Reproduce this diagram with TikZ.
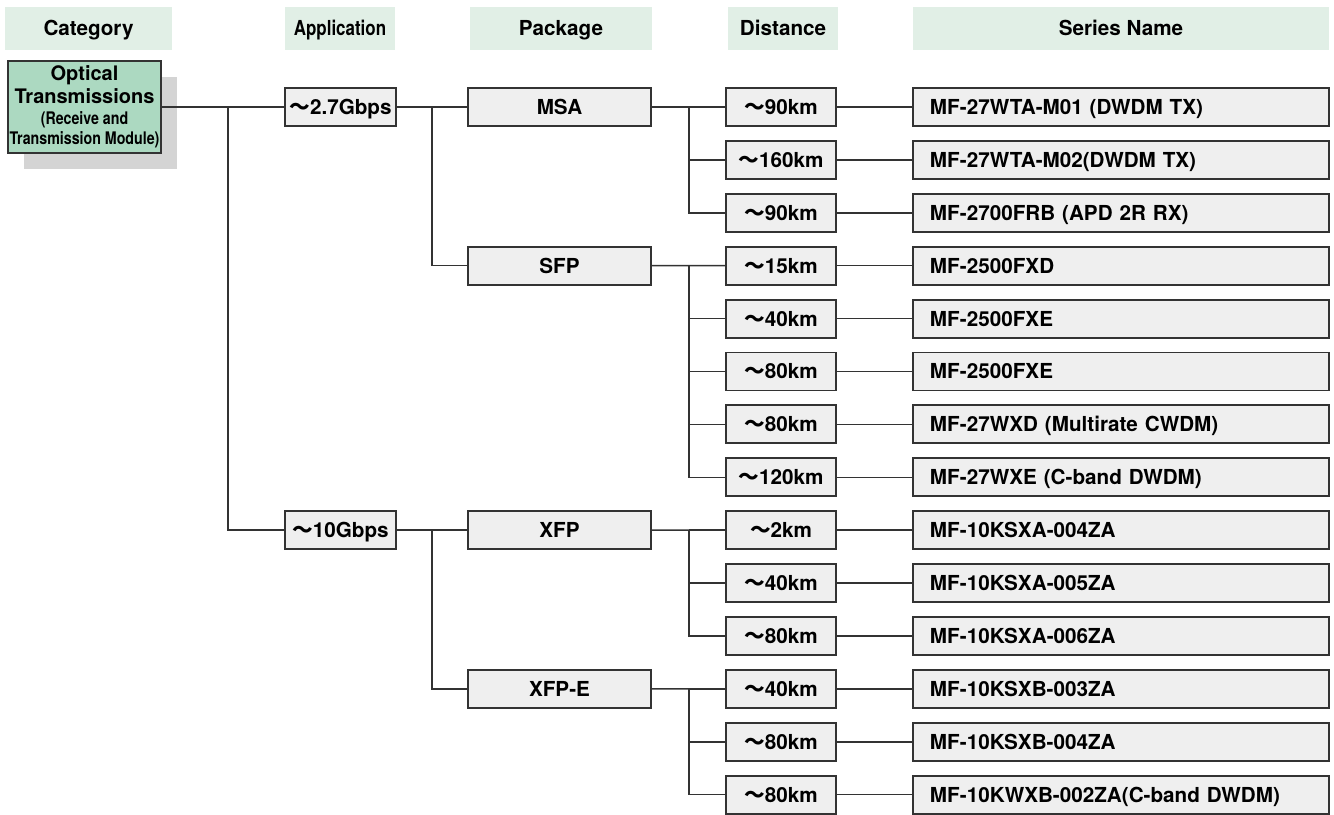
\documentclass[tikz,border=0pt]{standalone}
\usepackage{fontspec}
\setmainfont{TeX Gyre Heros}
\newfontfamily\cndfont[FakeStretch=0.82]{TeX Gyre Heros}
\newfontfamily\cjkfont{Noto Sans CJK JP}
\newcommand{\wave}{{\cjkfont ～}}
\usetikzlibrary{positioning,shadows}

\definecolor{headfill}{HTML}{E1EFE6}
\definecolor{boxfill}{HTML}{EFEFEF}
\definecolor{optfill}{HTML}{ACD9C1}
\definecolor{shadefill}{HTML}{D4D4D4}
\definecolor{edgegray}{HTML}{333333}

\begin{document}
\begin{tikzpicture}[x=0.75pt, y=-0.75pt,
  every node/.style={font=\bfseries\fontsize{15.5}{18}\selectfont},
  cnd/.style={font=\cndfont\bfseries\fontsize{15.5}{18}\selectfont},
  txt/.style={text height=13.5pt, text depth=2.3pt},
  headbox/.style={txt, fill=headfill, minimum height=32.25pt, inner sep=0pt},
  itembox/.style={txt, draw=edgegray, line width=1.4pt, fill=boxfill, minimum height=28.5pt, inner sep=0pt},
  appbox/.style={itembox, minimum width=83.25pt},
  pkgbox/.style={itembox, minimum width=137.25pt},
  distbox/.style={itembox, minimum width=82.5pt},
  serbox/.style={itembox, anchor=west, inner xsep=12.75pt, text width=286.5pt, align=left},
  link/.style={draw=edgegray, line width=1.1pt}]
  \useasboundingbox (0,0) rectangle (1334,814);

  % column headers
  \node[headbox, minimum width=125.25pt] (hcat) at (88.5,28.5) {Category};
  \node[headbox, cnd, minimum width=82.5pt] (happ) at (340,28.5) {Application};
  \node[headbox, minimum width=136.5pt] (hpkg) at (561,28.5) {Package};
  \node[headbox, minimum width=82.5pt] (hdist) at (783,28.5) {Distance};
  \node[headbox, minimum width=312pt] (hser) at (1121,28.5) {Series Name};

  % category
  \node[draw=edgegray, line width=1.4pt, fill=optfill, minimum width=114.75pt, minimum height=69pt,
        inner sep=0pt, align=center, font=\bfseries\fontsize{15}{17}\selectfont,
        drop shadow={shadow xshift=12pt, shadow yshift=-12pt, fill=shadefill, opacity=1}]
        (opt) at (84.5,107)
        {Optical\\Transmissions\\[-1pt]
         {\cndfont\fontsize{13}{15}\selectfont (Receive and}\\[-2pt]
         {\cndfont\fontsize{13}{15}\selectfont Transmission Module)}};

  % applications
  \node[appbox] (g27) at (340.5,107) {\wave2.7Gbps};
  \node[appbox] (g10) at (340.5,530.2) {\wave10Gbps};

  % packages
  \node[pkgbox] (msa) at (559.5,107) {MSA};
  \node[pkgbox] (sfp) at (559.5,265.7) {SFP};
  \node[pkgbox] (xfp) at (559.5,530.2) {XFP};
  \node[pkgbox] (xfpe) at (559.5,688.9) {XFP-E};

  % distances and series
  \foreach \d/\s [count=\i from 0] in {90km/MF-27WTA-M01 (DWDM TX), 160km/MF-27WTA-M02(DWDM TX),
      90km/MF-2700FRB (APD 2R RX), 15km/MF-2500FXD, 40km/MF-2500FXE, 80km/MF-2500FXE,
      80km/MF-27WXD (Multirate CWDM), 120km/MF-27WXE (C-band DWDM), 2km/MF-10KSXA-004ZA,
      40km/MF-10KSXA-005ZA, 80km/MF-10KSXA-006ZA, 40km/MF-10KSXB-003ZA, 80km/MF-10KSXB-004ZA,
      80km/MF-10KWXB-002ZA(C-band DWDM)} {
    \pgfmathsetmacro\yy{107+52.9*\i}
    \node[distbox] (d\i) at (781,\yy) {\wave\d};
    \node[serbox] (s\i) at (912,\yy) {\s};
    \draw[link] (d\i) -- (s\i);
  }

  % tree links
  \draw[link] (opt) -- (g27);
  \coordinate (vtr) at (228,107);
  \draw[link] (vtr) |- (g10);
  \draw[link] (g27) -- (msa);
  \coordinate (vg27) at (432,107);
  \draw[link] (vg27) |- (sfp);
  \draw[link] (g10) -- (xfp);
  \coordinate (vg10) at (432,530.2);
  \draw[link] (vg10) |- (xfpe);
  \foreach \p/\f/\l in {msa/0/2, sfp/3/7, xfp/8/10, xfpe/11/13} {
    \draw[link] (\p) -- (d\f);
    \coordinate (v\p) at ([xshift=-27pt]d\f.west);
    \draw[link] (v\p) |- (d\l);
    \foreach \k in {\f,...,\l} \draw[link] (v\p |- d\k) -- (d\k);
  }
\end{tikzpicture}
\end{document}
